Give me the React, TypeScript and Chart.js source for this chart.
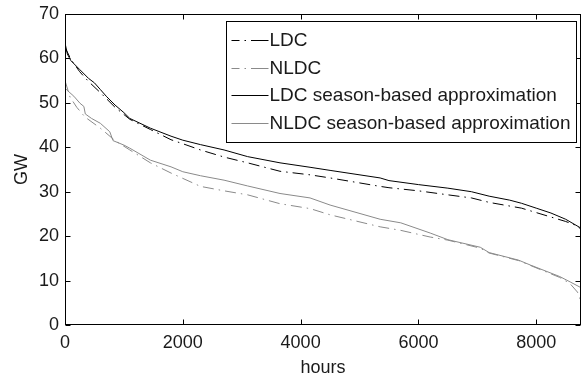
import React, { useEffect, useRef } from "react";
import { Chart, registerables } from "chart.js";

Chart.register(...registerables);

// ---- data ----
const seriesLabels = [
  "LDC",
  "NLDC",
  "LDC season-based approximation",
  "NLDC season-based approximation",
];

const ldcHours = [0, 100, 250, 400, 600, 850, 1100, 1450, 1800, 2000, 2300, 2700, 3100, 3650, 4160, 4500, 5350, 5500, 6000, 6500, 6900, 7200, 7750, 8250, 8500, 8700, 8760];
const ldcGW = [62.5, 59.8, 57, 54.8, 52.3, 49, 46.3, 44, 41.7, 40.8, 39.4, 37.8, 36.5, 34.6, 33.8, 33.1, 31.2, 30.9, 30.2, 29.3, 28.6, 27.6, 26.3, 24.3, 23.3, 22.3, 21.5];

const nldcHours = [0, 85, 200, 340, 600, 850, 1100, 1450, 1800, 2000, 2300, 2700, 3100, 3650, 4160, 4500, 5350, 5700, 6200, 6500, 7050, 7200, 7700, 7900, 8400, 8575, 8700, 8740, 8760];
const nldcGW = [55, 51.3, 49, 46.8, 44.3, 41.5, 39.4, 36.5, 34.2, 33, 31.2, 30.2, 29.3, 27.3, 26.2, 24.8, 22.1, 21.3, 19.8, 19.1, 17.3, 16.2, 14.5, 13.4, 10.7, 9.3, 7.4, 6, 4];

const ldcApproxHours = [0, 40, 100, 250, 400, 500, 600, 700, 850, 1000, 1100, 1450, 1800, 2000, 2300, 2700, 3100, 3650, 4160, 4500, 5350, 5500, 6000, 6500, 6900, 7200, 7550, 7750, 8000, 8250, 8500, 8760];
const ldcApproxGW = [63.5, 61, 59.5, 57.5, 55.5, 54.5, 53, 51.5, 49.5, 47.8, 46.5, 44.3, 42.5, 41.6, 40.6, 39.4, 37.9, 36.5, 35.5, 34.8, 33.1, 32.5, 31.6, 30.8, 30, 29, 28.1, 27.4, 26.3, 25.2, 23.8, 21.8];

const nldcApproxHours = [0, 30, 150, 255, 320, 345, 450, 600, 760, 815, 1000, 1100, 1450, 1800, 2000, 2300, 2700, 3100, 3650, 4160, 4500, 5350, 5700, 6200, 6500, 7050, 7200, 7700, 7900, 8400, 8575, 8760];
const nldcApproxGW = [53.3, 52.9, 51.5, 49.9, 49.2, 47.5, 46.5, 45.4, 43.5, 41.5, 40.5, 39.8, 37.1, 35.6, 34.5, 33.6, 32.6, 31.3, 29.6, 28.6, 27, 23.8, 23, 20.7, 19.2, 17.5, 16.3, 14.6, 13.5, 10.9, 9.7, 8.4];

const xTickValues = [0, 2000, 4000, 6000, 8000];
const yTickValues = [0, 10, 20, 30, 40, 50, 60, 70];

const FONT = "'Liberation Sans', Arial, Helvetica, sans-serif";
const TEXT = "#1a1a1a";

function toPoints(hours: number[], values: number[]) {
  return hours.map((h, i) => ({ x: h, y: values[i] }));
}

const frameLegendPlugin = {
  id: "frameLegend",
  afterDraw(chart: any) {
    const { ctx, chartArea, scales } = chart;
    const { left, right, top, bottom } = chartArea;
    const L = Math.round(left) + 0.5;
    const R = Math.round(right) - 0.5;
    const T = Math.round(top) + 0.5;
    const B = Math.round(bottom) - 0.5;
    ctx.save();
    ctx.setLineDash([]);
    ctx.strokeStyle = "#000";
    ctx.lineWidth = 1;
    ctx.strokeRect(L, T, R - L, B - T);
    const tl = 5;
    ctx.beginPath();
    xTickValues.forEach((v) => {
      const px = Math.round(scales.x.getPixelForValue(v)) + 0.5;
      ctx.moveTo(px, B);
      ctx.lineTo(px, B - tl);
      ctx.moveTo(px, T);
      ctx.lineTo(px, T + tl);
    });
    yTickValues.forEach((v) => {
      const py = Math.round(scales.y.getPixelForValue(v)) + 0.5;
      ctx.moveTo(L, py);
      ctx.lineTo(L + tl, py);
      ctx.moveTo(R, py);
      ctx.lineTo(R - tl, py);
    });
    ctx.stroke();

    // legend box
    const bw = 350;
    const bh = 121;
    const bx = Math.round(right) - 5 - bw + 0.5;
    const by = Math.round(top) + 7 + 0.5;
    ctx.fillStyle = "#fff";
    ctx.fillRect(bx, by, bw, bh);
    ctx.strokeStyle = "#000";
    ctx.strokeRect(bx, by, bw, bh);
    ctx.font = `19px ${FONT}`;
    ctx.textBaseline = "middle";
    ctx.textAlign = "left";
    chart.data.datasets.forEach((ds: any, i: number) => {
      const cy = Math.round(by + 18.5 + i * 27.5) + 0.5;
      ctx.strokeStyle = ds.borderColor;
      ctx.setLineDash(ds.borderDash ? [8, 5, 1.5, 5, 30] : []);
      ctx.beginPath();
      ctx.moveTo(bx + 5, cy);
      ctx.lineTo(bx + 42, cy);
      ctx.stroke();
      ctx.setLineDash([]);
      ctx.fillStyle = TEXT;
      ctx.fillText(ds.label, bx + 43, cy);
    });
    ctx.restore();
  },
};

export default function App() {
  const ref = useRef<HTMLCanvasElement | null>(null);

  useEffect(() => {
    if (!ref.current) return;
    const dash = [11, 5, 1.5, 5];
    const chart = new Chart(ref.current, {
      type: "line",
      data: {
        datasets: [
          {
            label: seriesLabels[0],
            data: toPoints(ldcHours, ldcGW),
            borderColor: "#000000",
            borderDash: dash,
            borderWidth: 1,
            pointRadius: 0,
          },
          {
            label: seriesLabels[1],
            data: toPoints(nldcHours, nldcGW),
            borderColor: "#8a8a8a",
            borderDash: dash,
            borderWidth: 1,
            pointRadius: 0,
          },
          {
            label: seriesLabels[2],
            data: toPoints(ldcApproxHours, ldcApproxGW),
            borderColor: "#000000",
            borderWidth: 1,
            pointRadius: 0,
          },
          {
            label: seriesLabels[3],
            data: toPoints(nldcApproxHours, nldcApproxGW),
            borderColor: "#8a8a8a",
            borderWidth: 1,
            pointRadius: 0,
          },
        ],
      },
      plugins: [frameLegendPlugin],
      options: {
        animation: false,
        responsive: false,
        devicePixelRatio: 1,
        layout: { padding: { top: 14, right: 6, left: 0, bottom: 0 } },
        plugins: {
          legend: { display: false },
          tooltip: { enabled: false },
        },
        scales: {
          x: {
            type: "linear",
            min: 0,
            max: 8760,
            afterFit: (s: any) => {
              s.height = 54;
              s.paddingLeft = 0;
              s.paddingRight = 0;
            },
            afterBuildTicks: (s: any) => {
              s.ticks = xTickValues.map((v) => ({ value: v }));
            },
            grid: { display: true, drawOnChartArea: false, drawTicks: false },
            border: { display: false },
            ticks: {
              padding: 7,
              color: TEXT,
              font: { family: FONT, size: 18 },
              maxRotation: 0,
              autoSkip: false,
              callback: (v: any) => String(v),
            },
            title: {
              display: true,
              text: "hours",
              color: TEXT,
              font: { family: FONT, size: 18 },
              padding: 0,
            },
          },
          y: {
            type: "linear",
            min: 0,
            max: 70,
            afterFit: (s: any) => {
              s.width = 65;
              s.paddingTop = 0;
              s.paddingBottom = 0;
            },
            afterBuildTicks: (s: any) => {
              s.ticks = yTickValues.map((v) => ({ value: v }));
            },
            grid: { display: true, drawOnChartArea: false, drawTicks: false },
            border: { display: false },
            ticks: {
              padding: 6,
              color: TEXT,
              font: { family: FONT, size: 18 },
              autoSkip: false,
              callback: (v: any) => String(v),
            },
            title: {
              display: true,
              text: "GW",
              color: TEXT,
              font: { family: FONT, size: 18 },
              padding: { top: 11, bottom: 0 },
            },
          },
        },
      },
    });
    return () => chart.destroy();
  }, []);

  return (
    <div style={{ position: "fixed", left: 0, top: 0, width: 587, height: 379, background: "#fff" }}>
      <canvas ref={ref} width={587} height={379} style={{ width: 587, height: 379 }} />
    </div>
  );
}
